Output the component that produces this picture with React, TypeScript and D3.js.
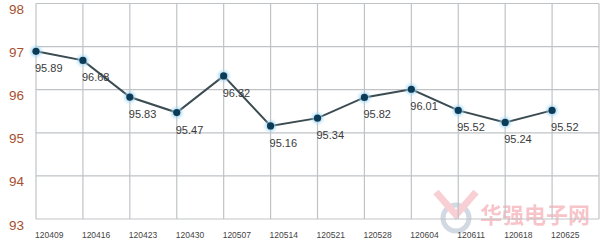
import React from "react";
import * as d3 from "d3";

const categories = ["120409","120416","120423","120430","120507","120514","120521","120528","120604","120611","120618","120625"];
const values = [96.89, 96.68, 95.83, 95.47, 96.32, 95.16, 95.34, 95.82, 96.01, 95.52, 95.24, 95.52];
const valueLabels = ["95.89","96.68","95.83","95.47","96.32","95.16","95.34","95.82","96.01","95.52","95.24","95.52"];
const yTicks = [93, 94, 95, 96, 97, 98];

const W = 605, H = 243;

export default function App() {
  const x = d3.scaleLinear().domain([0, 12]).range([36, 599]);
  const y = d3.scaleLinear().domain([93, 98]).range([219, 3.5]);
  const line = d3.line<number>().x((_, i) => x(i)).y(d => y(d));
  const vlines = d3.range(0, 13);
  return (
    <svg width={W} height={H} style={{ position: "absolute", left: 0, top: 0, background: "#fff" }}>
      <defs>
        <filter id="glow" x="-100%" y="-100%" width="300%" height="300%">
          <feGaussianBlur stdDeviation="1.5" />
        </filter>
      </defs>
      <rect x={0} y={0} width={W} height={H} fill="#fff" />
      {/* watermark */}
      <g opacity={0.5}>
        <circle cx={456} cy={218} r={13} fill="none" stroke="#a9b4c8" strokeWidth={5} />
        <path d="M436,192 L456,215 L476,192" fill="none" stroke="#f2a0aa" strokeWidth={7} />
        <text x={480} y={223} fontFamily="Noto Sans CJK SC" fontWeight="bold" fontSize={22} fill="#f08a96">华强电子网</text>
      </g>
      {yTicks.map(t => (
        <line key={"h" + t} x1={36} x2={599} y1={y(t)} y2={y(t)} stroke="#bfc3c6" strokeWidth={1.2} />
      ))}
      {vlines.map(i => (
        <line key={"v" + i} x1={x(i)} x2={x(i)} y1={y(98)} y2={y(93)} stroke="#bfc3c6" strokeWidth={1.2} />
      ))}
      {yTicks.map(t => (
        <text key={"yl" + t} x={24} y={y(t) + 10.5} textAnchor="end" fontFamily="Liberation Sans, Arial, sans-serif" fontSize={13.5} fill="#a8502f">{t}</text>
      ))}
      {categories.map((c, i) => (
        <text key={"xl" + c} x={x(i) - 1} y={238} fontFamily="Liberation Sans, Arial, sans-serif" fontSize={8.5} fill="#444">{c}</text>
      ))}
      <path d={line(values) || ""} fill="none" stroke="#3b4b52" strokeWidth={2} />
      {values.map((v, i) => (
        <g key={"p" + i}>
          <circle cx={x(i)} cy={y(v)} r={5.5} fill="#9fd6f2" opacity={0.8} filter="url(#glow)" />
          <circle cx={x(i)} cy={y(v)} r={3.6} fill="#0c3b57" />
        </g>
      ))}
      {values.map((v, i) => (
        <text key={"vl" + i} x={x(i) - 1} y={y(v) + 21} fontFamily="Liberation Sans, Arial, sans-serif" fontSize={11} fill="#3a3a3a">{valueLabels[i]}</text>
      ))}
    </svg>
  );
}
